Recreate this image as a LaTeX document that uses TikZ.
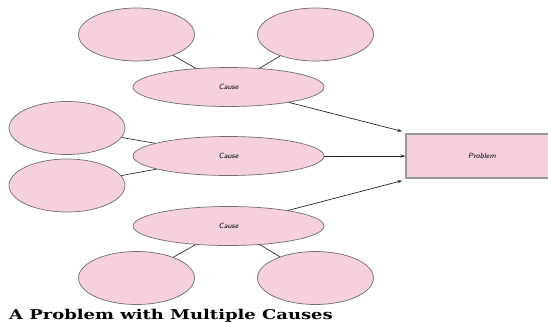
\documentclass[tikz,border=0pt]{standalone}
\usepackage{fontspec}
\newfontfamily\capfont{DejaVu Serif}
\usetikzlibrary{shapes.geometric,arrows.meta}
\definecolor{petal}{RGB}{246,208,220}
\definecolor{rim}{RGB}{110,110,110}
\tikzset{
  leaf/.style={ellipse, draw=rim, fill=petal, line width=0.7pt, inner sep=0pt, minimum width=116pt, minimum height=53pt},
  cause/.style={ellipse, draw=rim, fill=petal, line width=0.7pt, inner sep=0pt, minimum width=191pt, minimum height=39pt, font=\sffamily\itshape\fontsize{7.5}{8}\selectfont},
  problem/.style={rectangle, draw=rim!70, fill=petal, line width=1.2pt, inner sep=0pt, minimum width=152pt, minimum height=44pt, font=\sffamily\itshape\fontsize{7.5}{8}\selectfont},
  link/.style={draw=black!80, line width=0.7pt},
  push/.style={draw=black!85, line width=0.7pt, -{Stealth[length=5pt,width=3pt]}}
}
\begin{document}
\begin{tikzpicture}[x=1pt, y=-1pt]
      \useasboundingbox (0,0) rectangle (548,322);
      % nodes
      \node[leaf] (tl) at (136.5,34.5) {};
      \node[leaf] (tr) at (315.5,34.5) {};
      \node[cause] (c1) at (228.5,87) {Cause};
      \node[leaf] (ml) at (67,128) {};
      \node[leaf] (ll) at (67,185.5) {};
      \node[cause] (c2) at (228.5,156) {Cause};
      \node[cause] (c3) at (228.5,226) {Cause};
      \node[leaf] (bl) at (136.5,278) {};
      \node[leaf] (br) at (315.5,278) {};
      \node[problem] (prob) at (482,156) {Problem};
      % lines
      \draw[link] (tl) -- (c1);
      \draw[link] (tr) -- (c1);
      \draw[link] (ml) -- (c2);
      \draw[link] (ll) -- (c2);
      \draw[link] (bl) -- (c3);
      \draw[link] (br) -- (c3);
      % arrows
      \draw[push] (c1) -- ([xshift=-3pt,yshift=2pt]prob.north west);
      \draw[push] (c2) -- (prob);
      \draw[push] (c3) -- ([xshift=-3pt,yshift=-2pt]prob.south west);
      % caption
      \node[anchor=base west, inner sep=0pt, font=\capfont\bfseries\fontsize{13.5}{16}\selectfont] (cap) at (9,319) {\scalebox{1.33}[1]{A Problem with Multiple Causes}};
\end{tikzpicture}
\end{document}
